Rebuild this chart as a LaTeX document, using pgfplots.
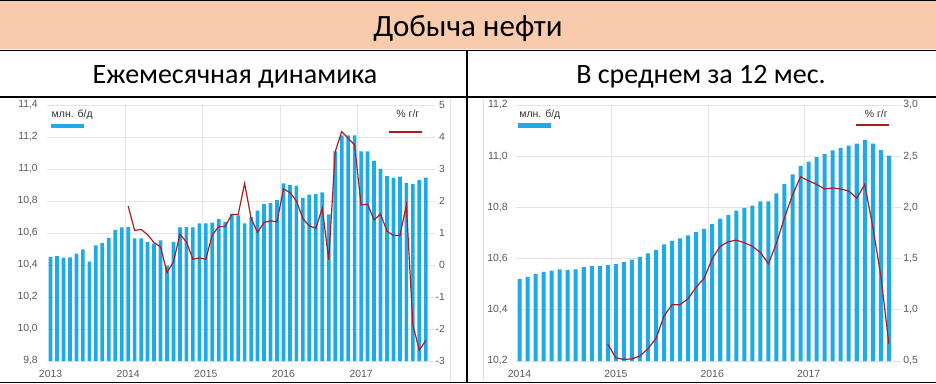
\documentclass[border=0pt]{standalone}
\usepackage{pgfplots}
\pgfplotsset{compat=1.18}
\usepackage{fontspec}
\setmainfont{Liberation Sans}
\newfontfamily\calibri{Carlito}
\definecolor{barblue}{RGB}{30,170,230}
\definecolor{linered}{RGB}{170,30,35}
\definecolor{titlebg}{RGB}{248,203,173}
\definecolor{gridgray}{RGB}{228,228,228}
\definecolor{framegray}{RGB}{225,225,225}
\definecolor{ticktext}{RGB}{89,89,89}
\definecolor{legtext}{RGB}{51,51,51}

\pgfplotstableread{
i v
0 10.450
1 10.456
2 10.446
3 10.448
4 10.471
5 10.498
6 10.421
7 10.523
8 10.537
9 10.569
10 10.619
11 10.635
12 10.637
13 10.567
14 10.567
15 10.544
16 10.533
17 10.554
18 10.396
19 10.544
20 10.635
21 10.637
22 10.635
23 10.660
24 10.660
25 10.665
26 10.687
27 10.670
28 10.720
29 10.710
30 10.660
31 10.700
32 10.740
33 10.780
34 10.786
35 10.806
36 10.910
37 10.900
38 10.896
39 10.820
40 10.840
41 10.844
42 10.854
43 10.717
44 11.110
45 11.210
46 11.210
47 11.210
48 11.110
49 11.110
50 11.050
51 11.000
52 10.956
53 10.946
54 10.952
55 10.912
56 10.906
57 10.930
58 10.946
}\monthbars

\pgfplotstableread{
i p
12 1.84
13 1.08
14 1.11
15 0.95
16 0.70
17 0.57
18 -0.24
19 0.10
20 0.96
21 0.72
22 0.18
23 0.22
24 0.18
25 0.94
26 1.20
27 1.20
28 1.58
29 1.58
30 2.55
31 1.46
32 1.02
33 1.33
34 1.38
35 1.35
36 2.375
37 2.27
38 2.00
39 1.45
40 1.22
41 1.15
42 1.77
43 0.16
44 3.54
45 4.17
46 3.96
47 3.75
48 1.875
49 1.90
50 1.41
51 1.59
52 1.06
53 0.92
54 0.92
55 1.875
56 -1.875
57 -2.66
58 -2.36
}\monthline

\pgfplotstableread{
i v
0 10.521
1 10.529
2 10.540
3 10.548
4 10.553
5 10.558
6 10.555
7 10.558
8 10.567
9 10.571
10 10.572
11 10.575
12 10.578
13 10.586
14 10.596
15 10.607
16 10.620
17 10.634
18 10.656
19 10.669
20 10.679
21 10.691
22 10.703
23 10.716
24 10.735
25 10.756
26 10.771
27 10.787
28 10.798
29 10.807
30 10.824
31 10.824
32 10.855
33 10.891
34 10.929
35 10.962
36 10.979
37 10.996
38 11.009
39 11.023
40 11.032
41 11.041
42 11.049
43 11.064
44 11.049
45 11.024
46 11.002
}\avgbars

\pgfplotstableread{
i p
11 0.666
12 0.53
13 0.516
14 0.52
15 0.55
16 0.62
17 0.72
18 0.94
19 1.05
20 1.05
21 1.11
22 1.22
23 1.31
24 1.50
25 1.62
26 1.665
27 1.68
28 1.655
29 1.62
30 1.56
31 1.45
32 1.65
33 1.90
34 2.12
35 2.30
36 2.26
37 2.225
38 2.18
39 2.19
40 2.18
41 2.16
42 2.09
43 2.225
44 1.81
45 1.33
46 0.67
}\avgline

\pgfplotsset{
  common/.style={
    scale only axis, height=256pt,
    axis line style={draw=none},
    major tick length=0pt, minor tick length=0pt,
    tick label style={font=\fontsize{10.4}{12}\selectfont, text=ticktext},
    /pgf/number format/assume math mode=true,
    legend style={draw=none, fill=none, inner sep=0pt, outer sep=0pt,
      nodes={inner sep=0pt}, anchor=south west},
  },
  onedec/.style={yticklabel style={/pgf/number format/fixed, /pgf/number format/fixed zerofill, /pgf/number format/precision=1, /pgf/number format/use comma}},
}

\begin{document}
\begin{tikzpicture}
\useasboundingbox (0pt,0pt) rectangle (936pt,383pt);
% table frame
\fill[titlebg] (0pt,334pt) rectangle (936pt,383pt);
\draw[framegray, line width=0.8pt] (450pt,0pt) -- (450pt,285pt);
\draw[framegray, line width=0.8pt] (483pt,0pt) -- (483pt,285pt);
\draw[line width=1.5pt] (0pt,382.25pt) -- (936pt,382.25pt);
\draw[line width=1.2pt] (0pt,332.5pt) -- (936pt,332.5pt);
\draw[line width=1.2pt] (0pt,286pt) -- (936pt,286pt);
\draw[line width=1.2pt] (0pt,0.8pt) -- (936pt,0.8pt);
\draw[line width=1.2pt] (467pt,0pt) -- (467pt,332.5pt);
\node[anchor=base, font=\calibri\fontsize{31}{36}\selectfont] at (468pt,346pt) {Добыча нефти};
\node[anchor=base, font=\calibri\fontsize{28}{33}\selectfont] at (235pt,299pt) {Ежемесячная динамика};
\node[anchor=base, font=\calibri\fontsize{28}{33}\selectfont] at (701pt,299pt) {В среднем за 12 мес.};

% ---------- left chart: bars
\begin{axis}[common, onedec, at={(47.3pt,22pt)}, width=388.2pt,
  xmin=-0.5, xmax=59.5, ymin=9.8, ymax=11.4,
  ytick={9.8,10.0,10.2,10.4,10.6,10.8,11.0,11.2,11.4},
  xtick={0,12,24,36,48}, xticklabels={2013,2014,2015,2016,2017},
  xticklabel style={yshift=-6pt},
  yticklabel style={xshift=-6pt},
  minor xtick={11.5,23.5,35.5,47.5},
  ymajorgrids, xminorgrids,
  major grid style={gridgray, line width=0.8pt},
  minor grid style={gridgray, line width=0.8pt},
  legend style={at={(0.0095,0.907)}},
]
\addplot[ybar, bar width=0.57, fill=barblue, draw=none,
  legend image code/.code={
    \fill[barblue] (0pt,0pt) rectangle (33.3pt,4.3pt);
    \node[anchor=base west, inner sep=0pt, fill=none, draw=none, text=legtext,
      font=\fontsize{10.5}{12}\selectfont] at (0.7pt,10.3pt) {млн. б/д};
  }] table[x=i, y=v] {\monthbars};
\addlegendentry{}
\end{axis}
% ---------- left chart: line
\begin{axis}[common, at={(47.3pt,22pt)}, width=388.2pt,
  xmin=-0.5, xmax=59.5, ymin=-3, ymax=5,
  axis y line*=right, axis x line=none,
  ytick={-3,-2,-1,0,1,2,3,4,5},
  yticklabel style={anchor=east, xshift=13pt},
  legend style={at={(0.8769,0.888)}},
]
\addplot[linered, line width=1.2pt, mark=none,
  legend image code/.code={
    \draw[linered, line width=2pt] (0pt,1pt) -- (33.3pt,1pt);
    \node[anchor=base east, inner sep=0pt, fill=none, draw=none, text=legtext,
      font=\fontsize{10.5}{12}\selectfont] at (30.6pt,15.2pt) {\% г/г};
  }] table[x=i, y=p] {\monthline};
\addlegendentry{}
\end{axis}

% ---------- right chart: bars
\begin{axis}[common, onedec, at={(515.5pt,22pt)}, width=385.4pt,
  xmin=-0.5, xmax=47.5, ymin=10.2, ymax=11.2,
  ytick={10.2,10.4,10.6,10.8,11.0,11.2},
  xtick={0,12,24,36}, xticklabels={2014,2015,2016,2017},
  xticklabel style={yshift=-6pt},
  yticklabel style={xshift=-4.4pt},
  minor xtick={11.5,23.5,35.5},
  ymajorgrids, xminorgrids,
  major grid style={gridgray, line width=0.8pt},
  minor grid style={gridgray, line width=0.8pt},
  legend style={at={(0.0057,0.909)}},
]
\addplot[ybar, bar width=0.5, fill=barblue, draw=none,
  legend image code/.code={
    \fill[barblue] (0pt,0pt) rectangle (33.3pt,4.4pt);
    \node[anchor=base west, inner sep=0pt, fill=none, draw=none, text=legtext,
      font=\fontsize{10.5}{12}\selectfont] at (1.6pt,9.7pt) {млн. б/д};
  }] table[x=i, y=v] {\avgbars};
\addlegendentry{}
\end{axis}
% ---------- right chart: line
\begin{axis}[common, onedec, at={(515.5pt,22pt)}, width=385.4pt,
  xmin=-0.5, xmax=47.5, ymin=0.5, ymax=3.0,
  axis y line*=right, axis x line=none,
  ytick={0.5,1.0,1.5,2.0,2.5,3.0},
  yticklabel style={xshift=-1pt},
  legend style={at={(0.8809,0.915)}},
]
\addplot[linered, line width=1.2pt, mark=none,
  legend image code/.code={
    \draw[linered, line width=2pt] (0pt,1pt) -- (33.3pt,1pt);
    \node[anchor=base east, inner sep=0pt, fill=none, draw=none, text=legtext,
      font=\fontsize{10.5}{12}\selectfont] at (31.7pt,8.2pt) {\% г/г};
  }] table[x=i, y=p] {\avgline};
\addlegendentry{}
\end{axis}
\end{tikzpicture}
\end{document}
